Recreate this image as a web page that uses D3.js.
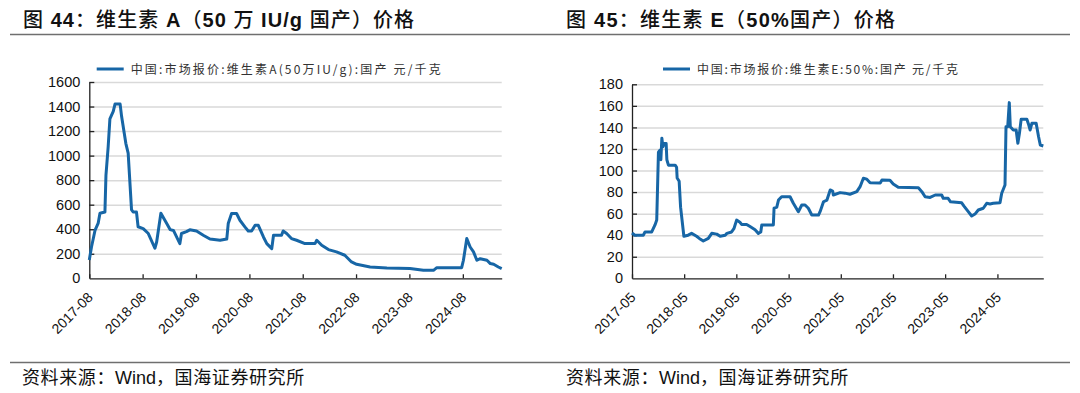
<!DOCTYPE html>
<html><head><meta charset="utf-8">
<script src="https://cdn.jsdelivr.net/npm/d3@7"></script>
<style>body{margin:0;background:#fff}svg{display:block}</style>
</head><body>
<svg id="c" width="1080" height="393"></svg>
<script>
// ---------- Data: Vitamin A (50万IU/g, domestic) ----------
const vaDates = ["2017-08-01","2017-08-16","2017-09-09","2017-10-01","2017-10-13","2017-11-16","2017-11-23","2017-12-08","2017-12-20","2018-01-12","2018-01-24","2018-02-28","2018-03-10","2018-04-08","2018-04-24","2018-05-17","2018-05-28","2018-06-20","2018-07-01","2018-08-05","2018-09-09","2018-10-24","2018-11-05","2018-12-04","2019-01-13","2019-02-05","2019-02-28","2019-04-13","2019-04-24","2019-05-28","2019-06-20","2019-08-05","2019-09-20","2019-11-05","2020-01-13","2020-02-28","2020-03-09","2020-04-01","2020-05-05","2020-05-28","2020-07-01","2020-07-24","2020-08-16","2020-09-09","2020-10-01","2020-11-05","2020-11-28","2021-01-01","2021-01-13","2021-03-09","2021-03-20","2021-04-13","2021-05-16","2021-06-20","2021-08-16","2021-10-24","2021-11-05","2021-12-09","2022-01-24","2022-03-20","2022-05-16","2022-07-01","2022-08-05","2022-11-05","2023-02-28","2023-08-05","2023-11-05","2024-01-13","2024-02-05","2024-07-24","2024-08-05","2024-08-28","2024-09-20","2024-10-13","2024-11-05","2024-11-28","2025-01-13","2025-02-05","2025-02-28","2025-04-01","2025-04-24"];
const vaValues = [150,255,390,450,530,540,840,1070,1300,1360,1420,1420,1320,1100,1020,560,540,540,420,405,365,245,296,530,446,397,390,283,365,380,395,385,351,320,310,320,446,528,528,473,419,386,386,432,432,337,283,242,351,351,386,365,324,310,283,283,310,269,234,215,188,133,114,92,84,79,65,65,87,87,147,324,255,215,147,160,147,120,114,92,79];
const vaXTicks = ["2017-08","2018-08","2019-08","2020-08","2021-08","2022-08","2023-08","2024-08"];
const vaYTicks = [0,200,400,600,800,1000,1200,1400,1600];

// ---------- Data: Vitamin E (50%, domestic) ----------
const veDates = ["2017-05-01","2017-05-21","2017-07-19","2017-07-31","2017-09-16","2017-10-09","2017-10-21","2017-11-02","2017-11-14","2017-11-19","2017-11-26","2017-12-03","2017-12-12","2017-12-26","2017-12-31","2018-01-11","2018-02-27","2018-03-09","2018-03-13","2018-03-27","2018-04-06","2018-04-29","2018-05-29","2018-06-22","2018-07-27","2018-08-15","2018-09-12","2018-10-17","2018-11-10","2018-12-15","2019-01-08","2019-02-12","2019-02-24","2019-03-29","2019-04-14","2019-05-03","2019-05-26","2019-06-07","2019-07-12","2019-08-05","2019-09-09","2019-10-02","2019-10-19","2019-10-26","2020-01-15","2020-01-20","2020-02-08","2020-02-20","2020-03-13","2020-05-11","2020-06-03","2020-07-08","2020-08-01","2020-08-24","2020-09-16","2020-10-10","2020-11-26","2020-12-07","2020-12-31","2021-01-24","2021-02-16","2021-03-05","2021-03-10","2021-04-26","2021-05-31","2021-07-04","2021-08-21","2021-09-13","2021-10-06","2021-10-30","2021-11-22","2022-02-01","2022-02-13","2022-04-10","2022-05-03","2022-06-07","2022-10-26","2022-11-19","2022-12-12","2023-01-16","2023-02-21","2023-04-07","2023-04-18","2023-05-22","2023-06-08","2023-08-25","2023-09-10","2023-10-10","2023-11-03","2023-11-26","2023-12-19","2024-01-23","2024-02-16","2024-03-10","2024-04-02","2024-05-19","2024-05-31","2024-06-23","2024-06-30","2024-07-12","2024-07-23","2024-07-30","2024-08-20","2024-09-09","2024-09-21","2024-10-02","2024-10-14","2024-11-23","2024-12-04","2024-12-16","2024-12-28","2025-01-27","2025-02-13","2025-02-25","2025-03-18"];
const veValues = [42,40,40,43,43,49.5,54,117,119,110,130,122,125,125,110,105,105,103,93,90,66,39,40,41.7,39,37,34.6,37,41.7,41,39,40,41.7,43,46,54,52,50,50,48,45,41.7,43,49.5,49.5,65,66,72.6,75.7,75.7,69.6,61.8,68,68,65,58.7,58.7,61.8,71,72.6,82,81,77.3,79.5,79,78,80.4,85,92.8,92,88.7,88.4,91.2,91,87.5,84.4,84,80.4,75.7,75,77.3,77.3,74.2,74.2,71,70,67,61.8,57.8,59.6,63.4,65,69.6,69,69.6,70.2,78.9,86.6,140.7,140.7,163,140.7,137.6,137.6,125.3,134.5,147.5,147.5,143.2,137.6,143.8,143.8,131.4,123.7,122.8];
const veXTicks = ["2017-05","2018-05","2019-05","2020-05","2021-05","2022-05","2023-05","2024-05"];
const veYTicks = [0,20,40,60,80,100,120,140,160,180];

// ---------- Texts ----------
const titles = ["图 44：维生素 A（50 万 IU/g 国产）价格", "图 45：维生素 E（50%国产）价格"];
const legends = ["中国:市场报价:维生素A(50万IU/g):国产 元/千克", "中国:市场报价:维生素E:50%:国产 元/千克"];
const sourceText = "资料来源：Wind，国海证券研究所";

const parseDay = d3.timeParse("%Y-%m-%d");
const parseMonth = d3.timeParse("%Y-%m");
const svg = d3.select("#c");
const LAT = "'Liberation Sans', Arial, sans-serif";
const CJK = "'Noto Sans CJK SC', 'Liberation Sans', sans-serif";
const LINE = "#1766a6";
const LATRE = /^[A-Za-z0-9%\/ ]+$/;
const runsOf = txt => txt.match(/[A-Za-z0-9%\/ ]+|[^A-Za-z0-9%\/ ]+/g);

// header & footer rules
svg.append("line").attr("x1",10).attr("x2",1070).attr("y1",34.5).attr("y2",34.5).attr("stroke","#6f6f6f").attr("stroke-width",1.5);
svg.append("line").attr("x1",10).attr("x2",1070).attr("y1",362.5).attr("y2",362.5).attr("stroke","#6f6f6f").attr("stroke-width",1.5);

function title(x, txt, width){
  const t = svg.append("text").attr("x",x).attr("y",27).attr("font-size",20).attr("fill","#111")
    .attr("textLength",width).attr("lengthAdjust","spacing");
  runsOf(txt).forEach(r=>{
    const latin = LATRE.test(r);
    t.append("tspan").text(r)
     .attr("font-family", latin?LAT:CJK)
     .attr("font-weight", latin?"bold":"500");
  });
}
title(23, titles[0], 391);
title(566, titles[1], 329);

function source(x){
  const t = svg.append("text").attr("x",x).attr("y",384).attr("font-size",18).attr("fill","#111");
  runsOf(sourceText).forEach(r=>{
    const latin = LATRE.test(r);
    t.append("tspan").text(r).attr("font-family", latin?LAT:CJK)
      .attr("letter-spacing", latin?0:0.6);
  });
}
source(22); source(566);

function chart(o){
  const data = o.dates.map((d,i)=>({d:parseDay(d), v:o.values[i]}));
  const x = d3.scaleTime().domain(d3.extent(data, e=>e.d)).range([o.x0, o.x1]);
  const y = d3.scaleLinear().domain([0, o.yTicks[o.yTicks.length-1]]).range([o.y0, o.y1]);
  const g = svg.append("g");

  // gridlines
  g.append("g").attr("transform",`translate(${o.x0},0)`)
    .call(d3.axisLeft(y).tickValues(o.yTicks.slice(1)).tickSize(-(o.x1-o.x0)).tickFormat(""))
    .call(s=>s.select(".domain").remove())
    .call(s=>s.selectAll("line").attr("stroke","#d9d9d9").attr("stroke-width",1.5));

  // y axis
  const ya = g.append("g").attr("transform",`translate(${o.x0},0)`)
    .call(d3.axisLeft(y).tickValues(o.yTicks).tickSize(-5).tickSizeOuter(0).tickPadding(9).tickFormat(d3.format("d")));
  ya.select(".domain").attr("stroke","#222").attr("stroke-width",1.3);
  ya.selectAll(".tick line").attr("stroke","#222").attr("stroke-width",1.3);
  ya.selectAll("text").attr("font-family",LAT).attr("font-size",14.5).attr("fill","#111");
  ya.selectAll(".tick").filter(d=>d===0).select("line").remove();

  // x axis
  const xa = g.append("g").attr("transform",`translate(0,${o.y0})`)
    .call(d3.axisBottom(x).tickValues(o.xTicks.map(parseMonth)).tickSize(-4).tickSizeOuter(0).tickFormat(d3.timeFormat("%Y-%m")));
  xa.select(".domain").attr("stroke","#222").attr("stroke-width",1.3);
  xa.selectAll(".tick line").attr("stroke","#222").attr("stroke-width",1.3);
  xa.selectAll("text").attr("font-family",LAT).attr("font-size",14).attr("fill","#111")
    .attr("text-anchor","end").attr("dy",null).attr("y",null)
    .attr("transform","translate(4,20) rotate(-45)");

  // line
  g.append("path").datum(data)
    .attr("fill","none").attr("stroke",LINE).attr("stroke-width",3).attr("stroke-linejoin","round")
    .attr("d", d3.line().x(e=>x(e.d)).y(e=>y(e.v)));

  // legend
  g.append("line").attr("x1",o.lx).attr("x2",o.lx+27).attr("y1",69).attr("y2",69).attr("stroke",LINE).attr("stroke-width",3);
  g.append("text").attr("x",o.lx+34).attr("y",73.5).attr("font-family",CJK).attr("font-size",12).attr("fill","#333")
    .attr("textLength",o.lw).attr("lengthAdjust","spacing").text(o.legend);
}

chart({dates:vaDates, values:vaValues, xTicks:vaXTicks, yTicks:vaYTicks,
  x0:89.3, x1:501.7, y0:278.3, y1:82, lx:96.7, lw:310, legend:legends[0]});
chart({dates:veDates, values:veValues, xTicks:veXTicks, yTicks:veYTicks,
  x0:632, x1:1043.3, y0:278.3, y1:84.3, lx:663, lw:261, legend:legends[1]});
</script>
</body></html>
